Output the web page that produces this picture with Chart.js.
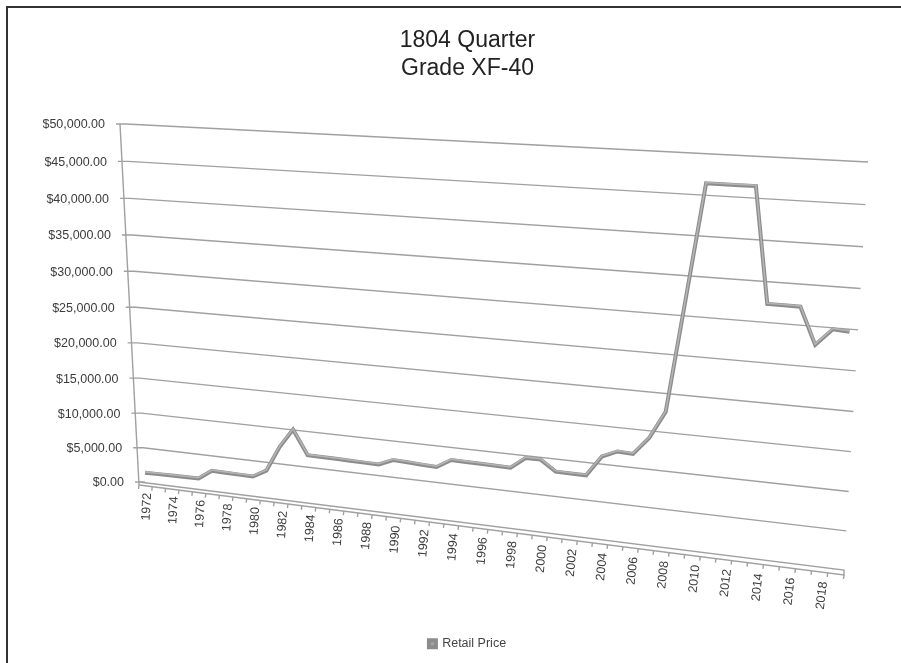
<!DOCTYPE html>
<html>
<head>
<meta charset="utf-8">
<script src="https://cdn.jsdelivr.net/npm/chart.js@4.4.1/dist/chart.umd.min.js"></script>
<style>
  html, body { margin: 0; padding: 0; background: #fff; }
  canvas { display: block; }
</style>
</head>
<body>
<canvas id="chart" width="901" height="663"></canvas>
<script>
// Datos del grafico
const years = [
    '1972', '1973', '1974', '1975', '1976', '1977', '1978', '1979', '1980', '1981',
    '1982', '1983', '1984', '1985', '1986', '1987', '1988', '1989', '1990', '1991',
    '1992', '1993', '1994', '1995', '1996', '1997', '1998', '1999', '2000', '2001',
    '2002', '2003', '2004', '2005', '2006', '2007', '2008', '2009', '2010', '2011',
    '2012', '2013', '2014', '2015', '2016', '2017', '2018', '2019'
];
const retailPrice = [
    1480, 1510, 1540, 1560, 1590, 2940, 2900, 2860, 2830, 3890,
    7460, 10110, 6760, 6730, 6700, 6660, 6630, 6600, 7450, 7350,
    7260, 7170, 8350, 8310, 8280, 8240, 8210, 9730, 9740, 8360,
    8340, 8330, 11030, 11910, 11800, 14090, 17690, 32000, 46450, 46450,
    46450, 46450, 32280, 32270, 32260, 27740, 29830, 29700
];
const priceTicks = [0, 5000, 10000, 15000, 20000, 25000, 30000, 35000, 40000, 45000, 50000];

// Pared del fondo vista en perspectiva (esquinas en pantalla)
const wall = { tl: [120, 124], tr: [868, 162], bl: [139, 482], br: [844, 570] };
const depthK = 1.11;    // acortamiento horizontal
const heightM = 0.0488; // acortamiento vertical

function project(s, t) {
    const u = s / (depthK + (1 - depthK) * s);
    const tau = t * (1 + heightM) / (1 + heightM * t);
    const topX = wall.tl[0] + u * (wall.tr[0] - wall.tl[0]);
    const topY = wall.tl[1] + u * (wall.tr[1] - wall.tl[1]);
    const botX = wall.bl[0] + u * (wall.br[0] - wall.bl[0]);
    const botY = wall.bl[1] + u * (wall.br[1] - wall.bl[1]);
    return { x: topX + tau * (botX - topX), y: topY + tau * (botY - topY) };
}

function formatMoney(v) {
    return '$' + v.toLocaleString('en-US', { minimumFractionDigits: 2, maximumFractionDigits: 2 });
}

const floorDepth = s => 3 + 2 * s;

const perspectiva = {
    id: 'perspectiva',
    afterDatasetsUpdate(chart) {
        const area = chart.chartArea;
        chart.getDatasetMeta(0).data.forEach(pt => {
            const p = project((pt.x - area.left) / area.width, (pt.y - area.top) / area.height);
            pt.x = p.x;
            pt.y = p.y;
        });
    },
    beforeDatasetsDraw(chart) {
        const ctx = chart.ctx;
        const area = chart.chartArea;
        const xs = chart.scales.x;
        const ys = chart.scales.y;
        const tOf = v => (ys.getPixelForValue(v) - area.top) / area.height;
        const sOf = i => (xs.getPixelForValue(i) - area.left) / area.width;

        ctx.save();
        ctx.strokeStyle = '#a0a0a0';
        ctx.lineWidth = 1.4;

        // lineas de la cuadricula y etiquetas del eje y
        ctx.fillStyle = '#3c3c3c';
        ctx.font = '12.5px "Liberation Sans"';
        ctx.textAlign = 'right';
        ctx.textBaseline = 'middle';
        priceTicks.forEach(v => {
            const a = project(0, tOf(v));
            const b = project(1, tOf(v));
            ctx.beginPath();
            ctx.moveTo(a.x - 4, a.y);
            ctx.lineTo(a.x + 6, a.y);
            if (v > 0) ctx.lineTo(b.x, b.y);
            ctx.stroke();
            ctx.fillText(formatMoney(v), a.x - 15, a.y + 1);
        });

        // eje y
        const top0 = project(0, 0);
        const bot0 = project(0, 1);
        const bot1 = project(1, 1);
        ctx.beginPath();
        ctx.moveTo(top0.x, top0.y);
        ctx.lineTo(bot0.x, bot0.y + floorDepth(0));
        ctx.stroke();

        // piso
        ctx.beginPath();
        ctx.moveTo(bot0.x, bot0.y);
        ctx.lineTo(bot1.x, bot1.y);
        ctx.lineTo(bot1.x, bot1.y + floorDepth(1));
        ctx.lineTo(bot0.x, bot0.y + floorDepth(0));
        ctx.stroke();

        // marcas del eje x
        ctx.beginPath();
        for (let j = 0; j <= years.length; j++) {
            const s = j / years.length;
            const p = project(s, 1);
            const y = p.y + floorDepth(s);
            ctx.moveTo(p.x, y);
            ctx.lineTo(p.x - 0.5, y + 4);
        }
        ctx.stroke();

        // etiquetas del eje x
        ctx.font = '12.5px "Liberation Sans"';
        years.forEach((yr, i) => {
            if (i % 2) return;
            const s = sOf(i);
            const p = project(s, 1);
            ctx.save();
            ctx.translate(p.x + 2 + 2 * s, p.y + floorDepth(s) + 7 + 3 * s);
            ctx.rotate((-87 + 4 * s) * Math.PI / 180);
            ctx.fillText(yr, 0, 0);
            ctx.restore();
        });
        ctx.restore();
    },
    afterDatasetsDraw(chart) {
        // cara superior mas clara de la cinta
        const ctx = chart.ctx;
        const pts = chart.getDatasetMeta(0).data;
        ctx.save();
        ctx.strokeStyle = '#b4b4b4';
        ctx.lineWidth = 1.6;
        ctx.beginPath();
        pts.forEach((pt, i) => {
            if (i === 0) ctx.moveTo(pt.x, pt.y - 0.8);
            else ctx.lineTo(pt.x, pt.y - 0.8);
        });
        ctx.stroke();
        ctx.restore();
    },
    afterDraw(chart) {
        const ctx = chart.ctx;
        ctx.save();
        ctx.strokeStyle = '#333';
        ctx.lineWidth = 2;
        ctx.beginPath();
        ctx.moveTo(7, 663);
        ctx.lineTo(7, 7);
        ctx.lineTo(901, 7);
        ctx.stroke();
        ctx.restore();
    }
};

Chart.defaults.font.family = '"Liberation Sans", Arial, sans-serif';

new Chart(document.getElementById('chart').getContext('2d'), {
    type: 'line',
    data: {
        labels: years,
        datasets: [{
            label: 'Retail Price',
            data: retailPrice,
            borderColor: '#8c8c8c',
            backgroundColor: '#a5a5a5',
            borderWidth: 4,
            pointRadius: 0,
            tension: 0,
            clip: false
        }]
    },
    options: {
        responsive: false,
        animation: false,
        events: [],
        layout: {
            padding: { left: 34, right: 0, top: 0, bottom: 3 }
        },
        scales: {
            x: { display: false, offset: true },
            y: { display: false, min: 0, max: 50000, ticks: { stepSize: 5000 } }
        },
        plugins: {
            title: {
                display: true,
                text: ['1804 Quarter', 'Grade XF-40'],
                color: '#222',
                font: { size: 23, weight: 'normal' },
                padding: { top: 27, bottom: 10 }
            },
            legend: {
                position: 'bottom',
                labels: {
                    boxWidth: 7,
                    boxHeight: 7,
                    color: '#444',
                    font: { size: 12.5 }
                }
            },
            tooltip: { enabled: false }
        }
    },
    plugins: [perspectiva]
});
</script>
</body>
</html>
